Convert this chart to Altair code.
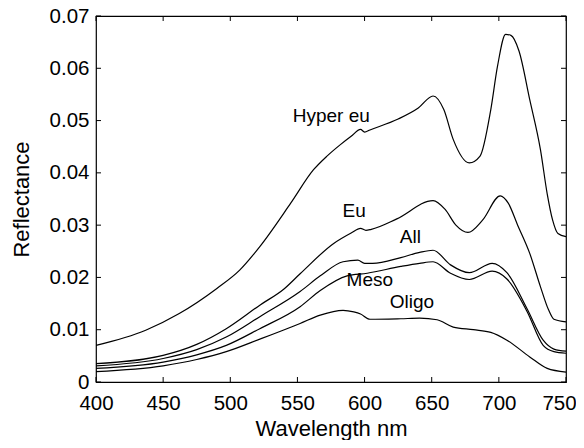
import altair as alt
import pandas as pd

# ---- data ----
hyper_wl = [400, 437, 462, 490, 507, 522, 545, 562, 572, 582, 590, 597, 600, 604, 625, 640, 651, 659, 666, 678, 686, 694, 699, 705, 709, 715, 723, 731, 736, 740, 744, 750]
hyper_r = [0.0070, 0.0099, 0.0131, 0.0179, 0.0214, 0.0259, 0.0342, 0.0406, 0.0432, 0.0454, 0.0470, 0.0483, 0.0478, 0.0482, 0.0503, 0.0524, 0.0547, 0.0521, 0.0464, 0.0419, 0.0432, 0.0521, 0.0604, 0.0665, 0.0663, 0.0633, 0.0540, 0.0444, 0.0360, 0.0310, 0.0284, 0.0278]

eu_wl = [400, 450, 475, 497, 522, 540, 552, 577, 590, 597, 601, 605, 624, 651, 660, 668, 677, 688, 701, 707, 714, 723, 731, 737, 741, 750]
eu_r = [0.0035, 0.0051, 0.0072, 0.0102, 0.0147, 0.0178, 0.0207, 0.0265, 0.0285, 0.0294, 0.0290, 0.0292, 0.0312, 0.0347, 0.0330, 0.0300, 0.0286, 0.0310, 0.0356, 0.0342, 0.0300, 0.0246, 0.0182, 0.0138, 0.0120, 0.0115]

all_wl = [400, 450, 475, 497, 522, 552, 567, 584, 595, 600, 606, 627, 641, 651, 664, 678, 695, 706, 721, 733, 741, 750]
all_r = [0.0031, 0.0045, 0.0062, 0.0086, 0.0125, 0.0173, 0.0203, 0.0230, 0.0233, 0.0227, 0.0227, 0.0238, 0.0248, 0.0252, 0.0224, 0.0209, 0.0227, 0.0209, 0.0140, 0.0080, 0.0063, 0.0059]

meso_wl = [400, 450, 475, 497, 522, 552, 567, 587, 602, 627, 641, 651, 664, 678, 695, 706, 721, 733, 741, 750]
meso_r = [0.0026, 0.0038, 0.0052, 0.0070, 0.0102, 0.0144, 0.0175, 0.0203, 0.0208, 0.0221, 0.0227, 0.0230, 0.0208, 0.0196, 0.0212, 0.0197, 0.0135, 0.0070, 0.0058, 0.0055]

oligo_wl = [400, 450, 475, 497, 522, 552, 567, 584, 592, 597, 604, 627, 641, 654, 666, 681, 694, 706, 723, 736, 750]
oligo_r = [0.0020, 0.0031, 0.0043, 0.0058, 0.0082, 0.0112, 0.0128, 0.0137, 0.0134, 0.0130, 0.0120, 0.0121, 0.0122, 0.0119, 0.0105, 0.0100, 0.0095, 0.0080, 0.0048, 0.0026, 0.0019]

series_names = ["Hyper eu", "Eu", "All", "Meso", "Oligo"]
series_widths = [1.2, 1.2, 2.6, 1.2, 1.2]

label_text = ["Hyper eu", "Eu", "All", "Meso", "Oligo"]
label_wl = [575.2, 592.3, 634.1, 603.9, 635.2]
label_r = [0.0508, 0.0327, 0.0278, 0.0195, 0.0153]

x_ticks = [400, 450, 500, 550, 600, 650, 700, 750]
y_ticks = [0, 0.01, 0.02, 0.03, 0.04, 0.05, 0.06, 0.07]

# ---- assemble ----
rows = []
for name, wl, r in zip(series_names,
                       [hyper_wl, eu_wl, all_wl, meso_wl, oligo_wl],
                       [hyper_r, eu_r, all_r, meso_r, oligo_r]):
    for w, v in zip(wl, r):
        rows.append({"series": name, "wl": w, "r": v})
df = pd.DataFrame(rows)
labels_df = pd.DataFrame({"text": label_text, "wl": label_wl, "r": label_r})
xt_df = pd.DataFrame({"t": x_ticks})
yt_df = pd.DataFrame({"t": y_ticks})

W, H = 470, 366
FONT = "Liberation Sans"
LFS = 20.5   # tick labels
TFS = 22     # axis titles
CFS = 19     # curve labels
TL = 5

xscale = alt.Scale(domain=[400, 750], nice=False, zero=False)
yscale = alt.Scale(domain=[0, 0.07], nice=False)

xaxis = alt.Axis(values=x_ticks, ticks=False, domain=False, grid=False,
                 labelFont=FONT, labelFontSize=LFS, labelColor="black",
                 labelPadding=11, labelFlush=False,
                 labelOffset={"condition": {"test": "datum.value == 750", "value": -7}, "value": 0},
                 title="Wavelength nm", titleFont=FONT, titleFontSize=TFS,
                 titleFontWeight="normal", titleColor="black",
                 titleX=W / 2, titleY=53, titleBaseline="alphabetic", titleAlign="center")
yaxis = alt.Axis(values=y_ticks, ticks=False, domain=False, grid=False,
                 labelFont=FONT, labelFontSize=LFS, labelColor="black",
                 labelPadding=7, labelFlush=False,
                 labelExpr="datum.value == 0 ? '0' : format(datum.value, '.2f')",
                 title="Reflectance", titleFont=FONT, titleFontSize=TFS,
                 titleFontWeight="normal", titleColor="black",
                 titleX=-75, titleY=H / 2, titleAngle=-90,
                 titleBaseline="middle", titleAlign="center")

lines = alt.Chart(df).mark_line(interpolate="monotone", color="black").encode(
    x=alt.X("wl:Q", scale=xscale, axis=xaxis),
    y=alt.Y("r:Q", scale=yscale, axis=yaxis),
    detail="series:N",
    strokeWidth=alt.StrokeWidth("series:N",
                                scale=alt.Scale(domain=series_names, range=series_widths),
                                legend=None),
)

texts = alt.Chart(labels_df).mark_text(font=FONT, fontSize=CFS, color="black",
                                       align="center", baseline="middle").encode(
    x=alt.X("wl:Q", scale=xscale),
    y=alt.Y("r:Q", scale=yscale),
    text="text:N",
)

tick_style = dict(color="black", strokeWidth=1)
bt = alt.Chart(xt_df).mark_rule(**tick_style).encode(
    x=alt.X("t:Q", scale=xscale), y=alt.value(H), y2=alt.value(H - TL))
tt = alt.Chart(xt_df).mark_rule(**tick_style).encode(
    x=alt.X("t:Q", scale=xscale), y=alt.value(0), y2=alt.value(TL))
lt = alt.Chart(yt_df).mark_rule(**tick_style).encode(
    y=alt.Y("t:Q", scale=yscale), x=alt.value(0), x2=alt.value(TL))
rt = alt.Chart(yt_df).mark_rule(**tick_style).encode(
    y=alt.Y("t:Q", scale=yscale), x=alt.value(W), x2=alt.value(W - TL))

chart = alt.layer(lines, texts, bt, tt, lt, rt).properties(
    width=W, height=H,
    autosize=alt.AutoSizeParams(type="none"),
    padding={"left": 88, "top": 8, "right": 10, "bottom": 58},
    background="white",
).configure_view(stroke="black", strokeWidth=1.2)

chart.save("out.html", embed_options={"renderer": "svg", "actions": False})
